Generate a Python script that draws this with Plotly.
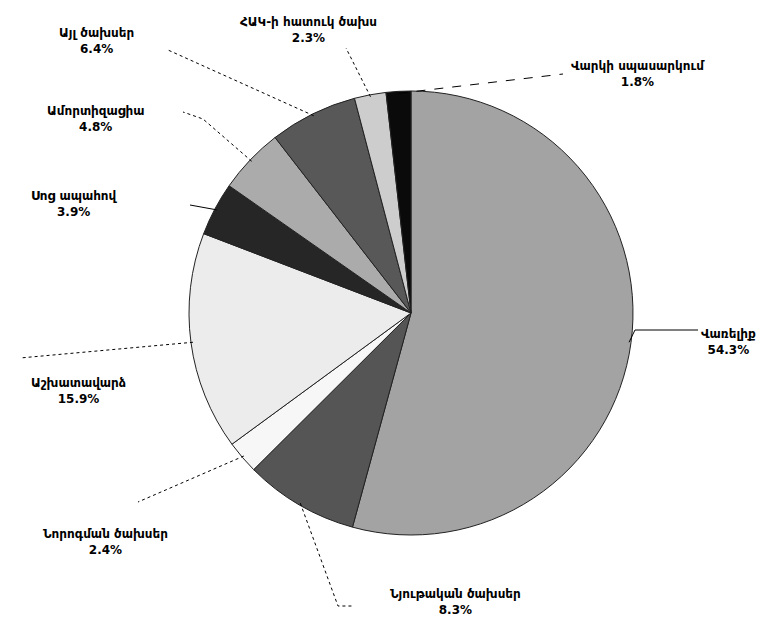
import math
import plotly.graph_objects as go

# ---- data ----
categories = ["Վառելիք", "Նյութական ծախսեր", "Նորոգման ծախսեր", "Աշխատավարձ",
              "Սոց ապահով", "Ամորտիզացիա", "Այլ ծախսեր", "ՀԱԿ-ի հատուկ ծախս",
              "Վարկի սպասարկում"]
values = [54.3, 8.3, 2.4, 15.9, 3.9, 4.8, 6.4, 2.3, 1.8]
value_labels = ["54.3%", "8.3%", "2.4%", "15.9%", "3.9%", "4.8%", "6.4%", "2.3%", "1.8%"]

# ---- style / layout ----
W, H = 771, 620
colors = ["#a3a3a3", "#555555", "#f7f7f7", "#ececec", "#262626",
          "#ababab", "#585858", "#cdcdcd", "#0a0a0a"]
CX, CY, R = 403, 305, 222  # pie centre / radius in pixels
# label centres (px) and leader-line label-side end points (px)
label_pos = [(720, 334), (447, 594), (97, 534), (70, 383), (66, 196),
             (88, 111), (88, 33), (300, 22), (630, 66)]
leader_end = [[(627, 322), (690, 322)], [(330, 598), (346, 598)], [(130, 494)],
              [(12, 350)], [(182, 197)], [(195, 111), (175, 104)],
              [(160, 42)], [(338, 40)], [(555, 66)]]
leader_dash = ["solid", "dot", "dot", "dot", "solid", "dot", "dot", "dot", "dash"]


def px(x):
    return x / W


def py(y):
    return 1 - y / H


fig = go.Figure(go.Pie(
    labels=categories, values=values, sort=False, direction="clockwise",
    rotation=0, marker=dict(colors=colors, line=dict(color="#222222", width=1)),
    textinfo="none", hoverinfo="label+percent", showlegend=False,
    domain=dict(x=[px(CX - R), px(CX + R)], y=[py(CY + R), py(CY - R)]),
))

shapes = []
annotations = []
total = sum(values)
cum = 0.0
for i, v in enumerate(values):
    mid = (cum + v / 2) / total * 2 * math.pi
    cum += v
    ex = CX + (R - 2) * math.sin(mid)
    ey = CY - (R - 2) * math.cos(mid)
    pts = [(ex, ey)] + leader_end[i]
    path = "M " + " L ".join(f"{px(x)},{py(y)}" for x, y in pts)
    shapes.append(dict(type="path", path=path, xref="paper", yref="paper",
                       line=dict(color="black", width=1, dash=leader_dash[i])))
    lx, ly = label_pos[i]
    annotations.append(dict(
        x=px(lx), y=py(ly), xref="paper", yref="paper", showarrow=False,
        text=f"<b>{categories[i]}</b><br><b>{value_labels[i]}</b>",
        align="center", xanchor="center", yanchor="middle",
        font=dict(family="DejaVu Sans, sans-serif", size=12, color="black"),
    ))

fig.update_layout(
    width=W, height=H, margin=dict(l=0, r=0, t=0, b=0),
    paper_bgcolor="white", plot_bgcolor="white",
    shapes=shapes, annotations=annotations,
)

fig.write_html("out.html")
